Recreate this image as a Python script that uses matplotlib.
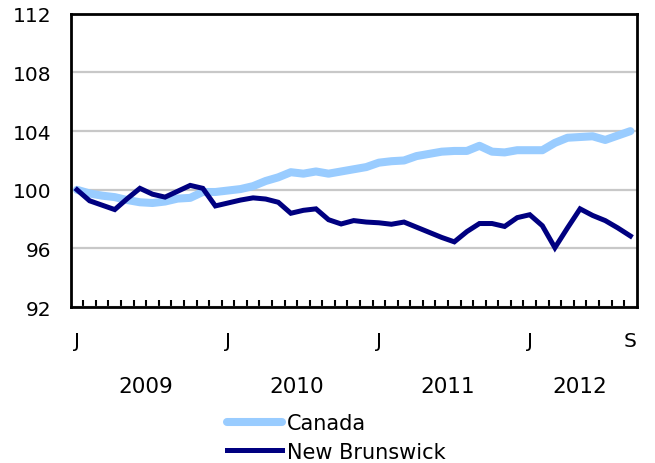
import numpy as np
import matplotlib
matplotlib.use('Agg')
import matplotlib.pyplot as plt
import matplotlib.transforms as mtransforms

# monthly index, Jan 2009 to Sep 2012
canada = [100.0, 99.75, 99.6, 99.5, 99.3, 99.15, 99.1, 99.2, 99.4, 99.45, 99.85, 99.85,
          99.95, 100.05, 100.25, 100.6, 100.85, 101.2, 101.1, 101.25, 101.1, 101.25, 101.4, 101.55,
          101.85, 101.95, 102.0, 102.3, 102.45, 102.6, 102.65, 102.65, 103.0, 102.6, 102.55, 102.7,
          102.7, 102.7, 103.2, 103.55, 103.6, 103.65, 103.4, 103.7, 104.0]
new_brunswick = [100.0, 99.25, 98.95, 98.65, 99.4, 100.1, 99.7, 99.5, 99.9, 100.3, 100.1, 98.9,
                 99.1, 99.3, 99.45, 99.37, 99.15, 98.4, 98.6, 98.7, 97.96, 97.67, 97.9, 97.8,
                 97.75, 97.65, 97.8, 97.45, 97.1, 96.75, 96.45, 97.15, 97.7, 97.7, 97.5, 98.1,
                 98.3, 97.55, 96.05, 97.4, 98.7, 98.25, 97.9, 97.4, 96.85]
month_labels = ['J', 'J', 'J', 'J', 'S']
month_pos = [0, 12, 24, 36, 44]
years = ['2009', '2010', '2011', '2012']
year_pos = [5.5, 17.5, 29.5, 40]

plt.rcParams['font.family'] = 'DejaVu Sans'
fig = plt.figure(figsize=(6.55, 4.64), dpi=100)
ax = fig.add_axes([0.108, 0.336, 0.864, 0.632])

x = np.arange(len(canada))
l1, = ax.plot(x, canada, color='#99CCFF', lw=5.8, solid_joinstyle='round', solid_capstyle='round', label='Canada')
l2, = ax.plot(x, new_brunswick, color='#000080', lw=3.6, solid_joinstyle='miter', label='New Brunswick')

ax.set_xlim(-0.5, len(canada) - 0.5)
ax.set_ylim(92, 112)
ax.set_yticks(np.arange(92, 113, 4))
ax.yaxis.grid(True, color='#C8C8C8', lw=1.6)
ax.set_axisbelow(True)
ax.tick_params(axis='y', length=0, pad=14, labelsize=14.5)

ax.set_xticks(month_pos)
ax.set_xticklabels(month_labels)
ax.set_xticks(np.arange(0.5, len(canada) - 1, 1), minor=True)
ax.tick_params(axis='x', which='major', length=0, pad=17, labelsize=14.5)
ax.tick_params(axis='x', which='minor', direction='in', length=5, width=1.5, color='black')

for s in ax.spines.values():
    s.set_linewidth(2)
    s.set_color('black')

trans = mtransforms.blended_transform_factory(ax.transData, ax.transAxes)
for yr, p in zip(years, year_pos):
    ax.text(p, -0.27, yr, transform=trans, ha='center', va='center', fontsize=15.5)

fig.legend([l1, l2], ['Canada', 'New Brunswick'], loc='upper left',
           bbox_to_anchor=(0.347, 0.108), frameon=False, fontsize=15,
           handlelength=2.64, handletextpad=0.24, labelspacing=0.42, borderpad=0, borderaxespad=0)

fig.savefig('out.png', dpi=100)
